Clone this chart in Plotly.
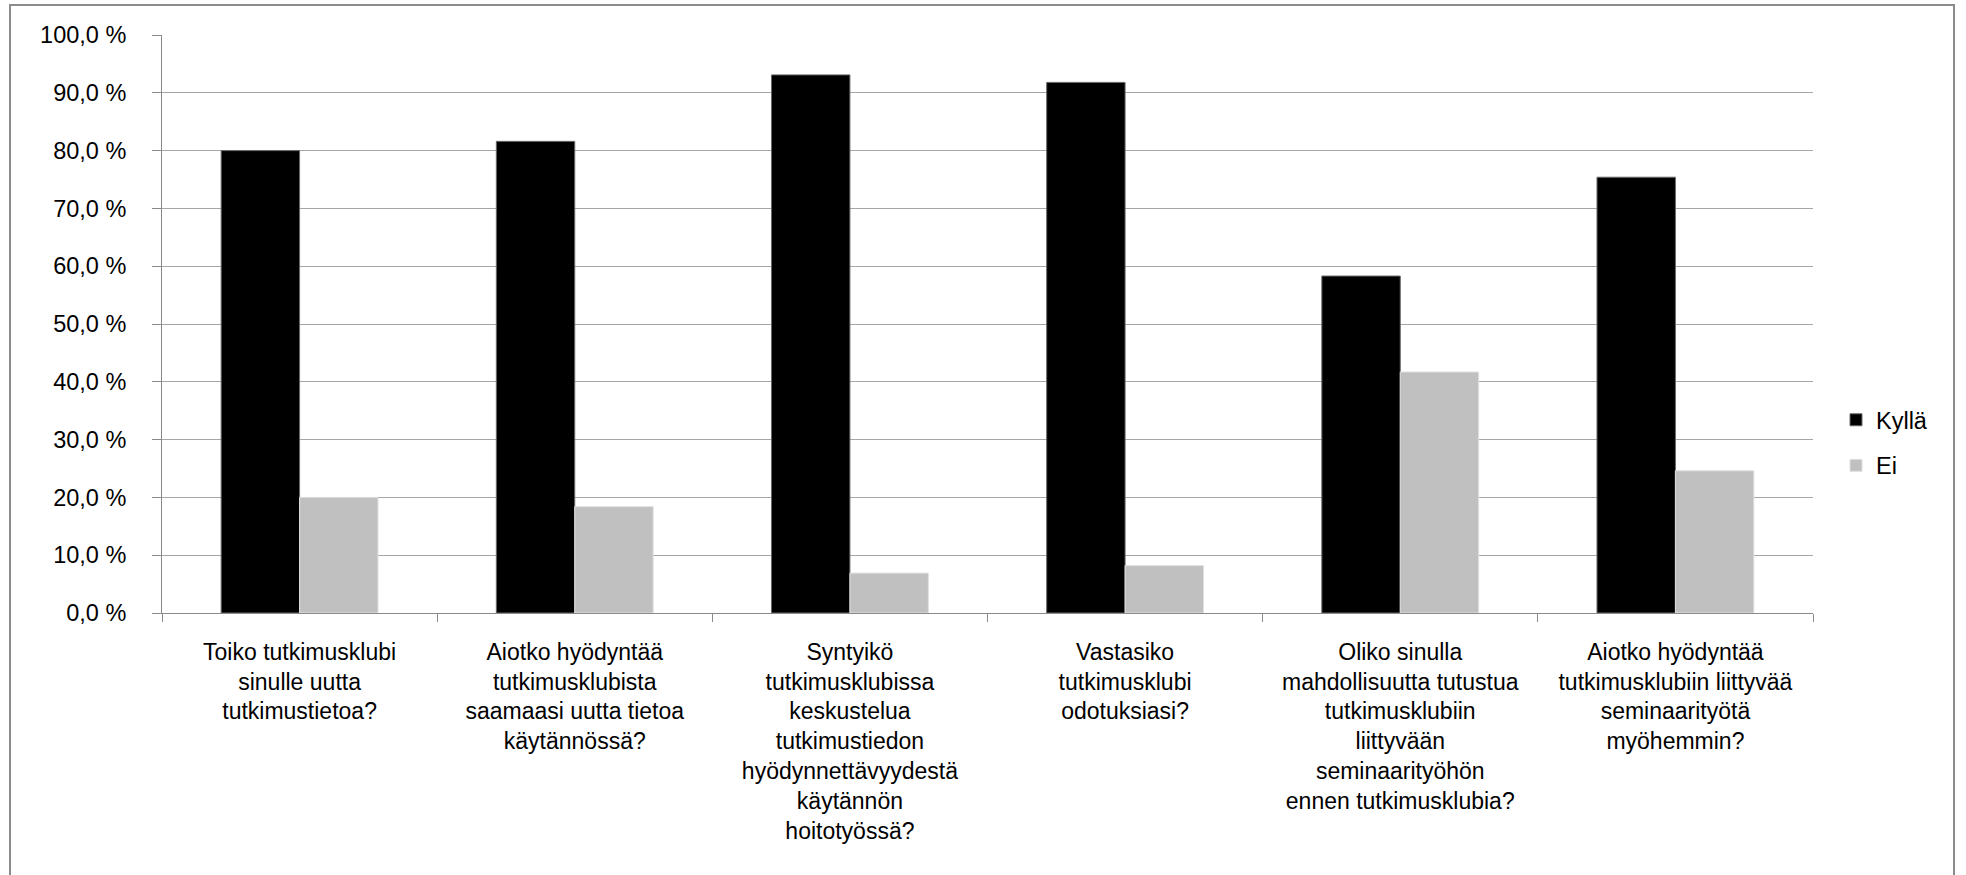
import plotly.graph_objects as go

categories = [
    "Toiko tutkimusklubi<br>sinulle uutta<br>tutkimustietoa?",
    "Aiotko hyödyntää<br>tutkimusklubista<br>saamaasi uutta tietoa<br>käytännössä?",
    "Syntyikö<br>tutkimusklubissa<br>keskustelua<br>tutkimustiedon<br>hyödynnettävyydestä<br>käytännön<br>hoitotyössä?",
    "Vastasiko<br>tutkimusklubi<br>odotuksiasi?",
    "Oliko sinulla<br>mahdollisuutta tutustua<br>tutkimusklubiin<br>liittyvään<br>seminaarityöhön<br>ennen tutkimusklubia?",
    "Aiotko hyödyntää<br>tutkimusklubiin liittyvää<br>seminaarityötä<br>myöhemmin?",
]
kylla = [80.0, 81.6, 93.1, 91.8, 58.3, 75.4]
ei = [20.0, 18.4, 6.9, 8.2, 41.7, 24.6]
series_names = ["Kyllä", "Ei"]
y_ticks = [0, 10, 20, 30, 40, 50, 60, 70, 80, 90, 100]
y_ticktext = [f"{v:.1f}".replace(".", ",") + " %" for v in y_ticks]

FONT = "Liberation Sans, Arial, sans-serif"
FS = 23.5
FS_X = 23

W, H = 1966, 875
L, R, T, B = 162, 1813, 35, 613

fig = go.Figure()
fig.add_trace(go.Bar(
    x=categories, y=kylla, name=series_names[0],
    marker=dict(color="#000000", line=dict(color="#6a6a6a", width=1)),
    legendgroup="a",
))
fig.add_trace(go.Bar(
    x=categories, y=ei, name=series_names[1],
    marker=dict(color="#c0c0c0", line=dict(color="#e0e0e0", width=1)),
    legendgroup="b",
))

def px_x(p):
    return (p - L) / (R - L)

def px_y(p):
    return (B - p) / (B - T)

fig.update_layout(
    width=W, height=H,
    margin=dict(l=L, r=W - R, t=T, b=H - B, pad=0),
    paper_bgcolor="white", plot_bgcolor="white",
    font=dict(family=FONT, size=FS, color="#000000"),
    barmode="group", bargap=0.43, bargroupgap=0,
    showlegend=True,
    legend=dict(
        x=px_x(1836), y=px_y(443), xanchor="left", yanchor="middle",
        font=dict(family=FONT, size=FS, color="#000000"),
        traceorder="grouped", tracegroupgap=12,
        bgcolor="rgba(0,0,0,0)", borderwidth=0,
    ),
    xaxis=dict(
        type="category", tickangle=0, tickson="boundaries",
        ticks="outside", ticklen=8, tickcolor="#8a8a8a", tickwidth=1,
        showline=True, linecolor="#8a8a8a", linewidth=1,
        showgrid=False, ticklabelstandoff=18,
        tickfont=dict(family=FONT, size=FS_X, color="#000000"),
    ),
    yaxis=dict(
        range=[0, 100], tickmode="array", tickvals=y_ticks, ticktext=y_ticktext,
        ticks="outside", ticklen=9, tickcolor="#8a8a8a", tickwidth=1,
        showline=True, linecolor="#8a8a8a", linewidth=1,
        showgrid=True, gridcolor="#a6a6a6", gridwidth=1,
        zeroline=False, ticklabelstandoff=21,
        tickfont=dict(family=FONT, size=FS, color="#000000"),
    ),
    shapes=[dict(
        type="rect", xref="paper", yref="paper",
        x0=px_x(10), x1=px_x(1954), y0=px_y(890), y1=px_y(5),
        line=dict(color="#8c8c8c", width=2), fillcolor="rgba(0,0,0,0)",
        layer="below",
    )],
)

fig.write_html("out.html")
